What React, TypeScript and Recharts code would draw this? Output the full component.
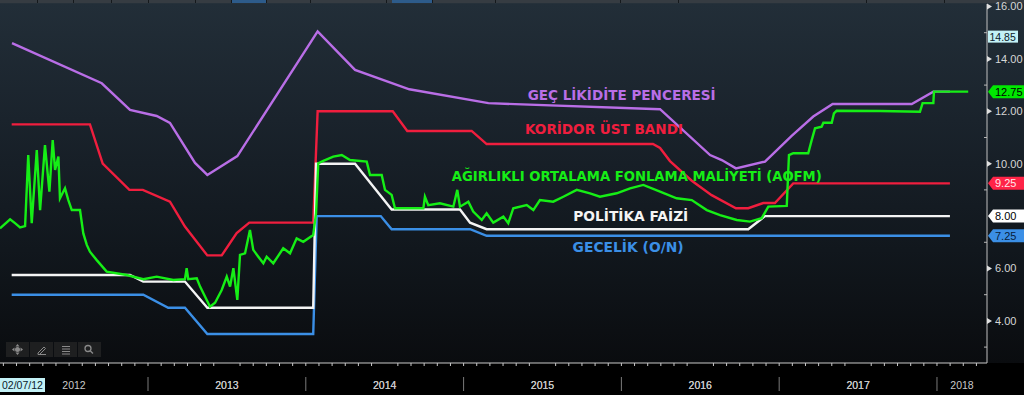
import { LineChart, Line, XAxis, YAxis, ReferenceDot } from "recharts";

// x in decimal years, y in %
const X_DOMAIN: [number, number] = [2012.062, 2018.317];
const Y_DOMAIN: [number, number] = [2.393, 16.095];

const GEC_LIKIDITE: [number, number][] = [
  [2012.138, 14.6], [2012.707, 13.07], [2012.886, 12.05], [2013.055, 11.82], [2013.139, 11.56],
  [2013.298, 10.03], [2013.376, 9.57], [2013.566, 10.29], [2014.075, 15.05], [2014.312, 13.58],
  [2014.656, 12.84], [2015.157, 12.31], [2016.245, 12.08], [2016.562, 10.33], [2016.636, 10.14],
  [2016.726, 9.82], [2016.91, 10.08], [2017.079, 11.06], [2017.216, 11.8], [2017.339, 12.28],
  [2017.84, 12.28], [2017.977, 12.75], [2018.082, 12.75],
];

const UST_BANT: [number, number][] = [
  [2012.136, 11.5], [2012.632, 11.5], [2012.713, 10.0], [2012.882, 9.0], [2012.967, 9.0],
  [2013.139, 8.55], [2013.234, 7.6], [2013.376, 6.5], [2013.467, 6.5], [2013.562, 7.35],
  [2013.642, 7.75], [2014.047, 7.75], [2014.075, 12.0], [2014.551, 12.0], [2014.643, 11.25],
  [2015.051, 11.25], [2015.146, 10.75], [2016.2, 10.75], [2016.245, 10.6], [2016.308, 10.1],
  [2016.446, 9.35], [2016.572, 8.8], [2016.726, 8.3], [2016.804, 8.3], [2016.899, 8.5],
  [2016.973, 8.5], [2017.089, 9.25], [2018.082, 9.25],
];

const GECELIK: [number, number][] = [
  [2012.136, 5.0], [2012.97, 5.0], [2013.128, 4.5], [2013.234, 4.5], [2013.376, 3.5],
  [2014.047, 3.5], [2014.069, 8.0], [2014.475, 8.0], [2014.544, 7.5], [2015.041, 7.5],
  [2015.146, 7.25], [2018.082, 7.25],
];

const POLITIKA: [number, number][] = [
  [2012.136, 5.75], [2012.886, 5.75], [2012.97, 5.5], [2013.234, 5.5], [2013.376, 4.5],
  [2014.047, 4.5], [2014.065, 10.0], [2014.312, 10.0], [2014.544, 8.25], [2014.977, 8.25],
  [2015.041, 7.75], [2015.146, 7.5], [2016.804, 7.5], [2016.91, 8.0], [2018.082, 8.0],
];

const AOFM: [number, number][] = [
  [2012.062, 7.53], [2012.126, 7.88], [2012.157, 7.73], [2012.189, 7.57], [2012.221, 7.62],
  [2012.241, 10.33], [2012.263, 7.73], [2012.295, 10.52], [2012.316, 8.23], [2012.347, 10.71],
  [2012.375, 8.93], [2012.396, 10.9], [2012.411, 9.76], [2012.432, 10.27], [2012.442, 8.68],
  [2012.474, 9.06], [2012.495, 8.61], [2012.517, 8.23], [2012.569, 8.23], [2012.59, 7.34],
  [2012.612, 6.9], [2012.632, 6.64], [2012.675, 6.32], [2012.738, 5.88], [2012.865, 5.75],
  [2012.97, 5.59], [2013.055, 5.69], [2013.16, 5.56], [2013.234, 5.59], [2013.245, 6.01],
  [2013.255, 5.59], [2013.309, 5.63], [2013.33, 5.31], [2013.393, 4.54], [2013.425, 4.69],
  [2013.467, 5.18], [2013.499, 5.69], [2013.52, 5.31], [2013.541, 6.01], [2013.566, 4.8],
  [2013.583, 6.52], [2013.615, 6.58], [2013.646, 7.47], [2013.667, 6.71], [2013.699, 6.45],
  [2013.731, 6.2], [2013.752, 6.45], [2013.794, 6.2], [2013.857, 6.77], [2013.9, 6.58],
  [2013.942, 7.15], [2013.984, 7.02], [2014.047, 7.28], [2014.065, 8.11], [2014.079, 10.02],
  [2014.111, 10.11], [2014.174, 10.27], [2014.228, 10.33], [2014.28, 10.14], [2014.386, 10.08],
  [2014.407, 9.57], [2014.481, 9.57], [2014.502, 9.0], [2014.544, 8.81], [2014.565, 8.3],
  [2014.745, 8.3], [2014.755, 8.74], [2014.776, 8.42], [2014.85, 8.49], [2014.935, 8.36],
  [2014.96, 9.0], [2014.977, 8.36], [2015.03, 8.55], [2015.061, 8.17], [2015.115, 7.85],
  [2015.146, 8.11], [2015.188, 7.75], [2015.252, 7.98], [2015.283, 7.73], [2015.315, 8.3],
  [2015.4, 8.42], [2015.442, 8.23], [2015.484, 8.61], [2015.568, 8.55], [2015.632, 8.74],
  [2015.717, 9.0], [2015.801, 8.87], [2015.864, 8.74], [2015.97, 8.87], [2016.055, 9.06],
  [2016.139, 9.19], [2016.245, 8.93], [2016.35, 8.68], [2016.446, 8.61], [2016.541, 8.23],
  [2016.625, 8.04], [2016.731, 7.85], [2016.815, 7.79], [2016.889, 7.92], [2016.931, 8.36],
  [2017.048, 8.39], [2017.062, 10.33], [2017.089, 10.4], [2017.184, 10.4], [2017.206, 10.9],
  [2017.227, 11.35], [2017.269, 11.41], [2017.28, 11.56], [2017.333, 11.56], [2017.347, 11.92],
  [2017.364, 12.02], [2017.639, 12.01], [2017.892, 11.98], [2017.909, 12.31], [2017.977, 12.31],
  [2017.981, 12.75], [2018.198, 12.75],
];

const YEARS = [2012, 2013, 2014, 2015, 2016, 2017, 2018];
const Y_MAJOR = [4, 6, 8, 10, 12, 14, 16];
const Y_MINOR = [3, 5, 7, 9, 11, 13, 15];
const MAX_MARK = 14.85;
const LAST_AOFM = 12.75;
const LAST_UST = 9.25;
const LAST_POLITIKA = 8.0;
const LAST_GECELIK = 7.25;
const START_LABEL = "02/07/12";

const COLORS = {
  gec: "#b96ee6",
  ust: "#f01e3e",
  aofm: "#16ee16",
  politika: "#f4f4f4",
  gecelik: "#3b8fe6",
};

const TAGS = [
  { v: LAST_AOFM, bg: "#00e800", fg: "#000" },
  { v: LAST_UST, bg: "#ff2447", fg: "#ffe8ec" },
  { v: LAST_POLITIKA, bg: "#ffffff", fg: "#000" },
  { v: LAST_GECELIK, bg: "#3b8fe6", fg: "#08203a" },
];

const toRows = (arr: [number, number][]) => arr.map(([t, v]) => ({ t, v }));

const monthTicks: number[] = [];
for (let m = 1; 2012 + m / 12 <= X_DOMAIN[1]; m++) monthTicks.push(2012 + m / 12);

const yearLabels = YEARS.map((y) => {
  const a = Math.max(y, X_DOMAIN[0]);
  const b = Math.min(y + 1, X_DOMAIN[1]);
  return { t: (a + b) / 2, label: String(y) };
});

const AXIS_FONT = "'Liberation Sans', Arial, sans-serif";
const ANNO_FONT = "'DejaVu Sans', Verdana, sans-serif";

function XTick(props: any) {
  const { x, y, payload } = props;
  const t = payload.value;
  const lab = yearLabels.find((l) => Math.abs(l.t - t) < 1e-9);
  if (lab) {
    return (
      <text x={x} y={y + 26} textAnchor="middle" fill="#c9c9c9" fontSize={10.5} fontFamily={AXIS_FONT}>
        {lab.label}
      </text>
    );
  }
  const isYear = Math.abs(t - Math.round(t)) < 1e-9;
  return (
    <g>
      <line x1={x} x2={x} y1={y} y2={y + 3} stroke="#c8c8c8" />
      {isYear && <line x1={x} x2={x} y1={y + 14} y2={y + 28} stroke="#7a7a7a" />}
    </g>
  );
}

function YTick(props: any) {
  const { x, y, payload } = props;
  const v = payload.value;
  if (Math.abs(v - MAX_MARK) < 1e-9) {
    return (
      <g>
        <rect x={x + 1} y={y - 6} width={30} height={12} fill="#c3f1f6" />
        <text x={x + 2.5} y={y + 4} fill="#0b1a2a" fontSize={10.5} fontFamily={AXIS_FONT}>
          {v.toFixed(2)}
        </text>
      </g>
    );
  }
  const tag = TAGS.find((tg) => Math.abs(tg.v - v) < 1e-9);
  if (tag) {
    return (
      <g>
        <path d={`M${x + 1} ${y}L${x + 6} ${y - 6.5}L1024 ${y - 6.5}L1024 ${y + 6.5}L${x + 6} ${y + 6.5}Z`} fill={tag.bg} />
        <text x={x + 8} y={y + 4} fill={tag.fg} fontSize={11} fontFamily={AXIS_FONT}>
          {v.toFixed(2)}
        </text>
      </g>
    );
  }
  if (Math.abs(v % 2) === 1) {
    return <line x1={x - 3} x2={x} y1={y} y2={y} stroke="#b8b8b8" />;
  }
  return (
    <g>
      <path d={`M${x} ${y - 3}L${x + 5} ${y}L${x} ${y + 3}Z`} fill="#e0e0e0" />
      <text x={x + 8} y={y + 4} fill="#d6d6d6" fontSize={11} fontFamily={AXIS_FONT}>
        {v.toFixed(2)}
      </text>
    </g>
  );
}

function Anno(props: any) {
  const { viewBox, text, color, w } = props;
  const x = viewBox.x + (viewBox.width || 0) / 2;
  const y = viewBox.y + (viewBox.height || 0) / 2;
  return (
    <text
      x={x}
      y={y + 5}
      fill={color}
      fontSize={13.5}
      fontWeight="bold"
      fontFamily={ANNO_FONT}
      textLength={w}
      lengthAdjust="spacingAndGlyphs"
    >
      {text}
    </text>
  );
}

const ANNOTATIONS = [
  { t: 2015.406, v: 12.62, text: "GEÇ LİKİDİTE PENCERESİ", color: COLORS.gec, w: 188 },
  { t: 2015.389, v: 11.32, text: "KORİDOR ÜST BANDI", color: COLORS.ust, w: 158 },
  { t: 2014.925, v: 9.53, text: "AĞIRLIKLI ORTALAMA FONLAMA MALİYETİ (AOFM)", color: COLORS.aofm, w: 370 },
  { t: 2015.695, v: 8.02, text: "POLİTİKA FAİZİ", color: COLORS.politika, w: 115 },
  { t: 2015.691, v: 6.81, text: "GECELİK (O/N)", color: COLORS.gecelik, w: 111 },
];

const SERIES = [
  { key: "gec", data: GEC_LIKIDITE },
  { key: "ust", data: UST_BANT },
  { key: "gecelik", data: GECELIK },
  { key: "politika", data: POLITIKA },
  { key: "aofm", data: AOFM },
] as const;

function ToolIcon({ kind }: { kind: number }) {
  const c = "#8a8a8a";
  return (
    <svg width={23} height={15} style={{ display: "block" }}>
      {kind === 0 && (
        <g fill={c}>
          <circle cx={11.5} cy={7.5} r={2.5} />
          <path d="M11.5 2l2 2.5h-4zM11.5 13l2-2.5h-4zM6 7.5l2.5-2v4zM17 7.5l-2.5-2v4z" />
        </g>
      )}
      {kind === 1 && <path d="M8 11l6-6 1.5 1.5-6 6H8zM8 12.5h8" stroke={c} fill="none" />}
      {kind === 2 && (
        <g stroke={c}>
          <line x1={8} x2={16} y1={4.5} y2={4.5} />
          <line x1={8} x2={16} y1={7} y2={7} />
          <line x1={8} x2={16} y1={9.5} y2={9.5} />
          <line x1={8} x2={16} y1={12} y2={12} />
        </g>
      )}
      {kind === 3 && (
        <g stroke={c} fill="none" strokeWidth={1.3}>
          <circle cx={10} cy={6.5} r={3} />
          <line x1={12.2} y1={8.7} x2={15} y2={11.5} />
        </g>
      )}
    </svg>
  );
}

const TOP_DIVIDERS = [37, 73, 111, 148, 195, 231, 266, 310, 386, 432, 495, 620, 678, 866, 944];

export default function App() {
  return (
    <div
      style={{
        position: "relative",
        width: 1024,
        height: 395,
        overflow: "hidden",
        background:
          "linear-gradient(to bottom, #2a343c 0px, #2a343c 3px, #222e38 4px, #1a232c 120px, #11171d 250px, #0a0c0f 363px, #000 363px)",
      }}
    >
      <style>{"body{margin:0;background:#000}"}</style>
      <div style={{ position: "absolute", left: 0, top: 0, width: 1024, height: 3, background: "#363c42" }}>
        <div style={{ position: "absolute", left: 231, width: 35, top: 0, height: 3, background: "#2d5b8a" }} />
        <div style={{ position: "absolute", left: 392, width: 40, top: 0, height: 3, background: "#2d5b8a" }} />
        {TOP_DIVIDERS.map((d) => (
          <div key={d} style={{ position: "absolute", left: d, width: 1, top: 0, height: 3, background: "#15191c" }} />
        ))}
      </div>
      <LineChart width={1024} height={395} margin={{ top: 4, right: 0, bottom: 0, left: 0 }}>
        <XAxis
          xAxisId="m"
          type="number"
          dataKey="t"
          domain={X_DOMAIN}
          allowDataOverflow
          ticks={[...monthTicks, ...yearLabels.map((l) => l.t)]}
          interval={0}
          height={32}
          tickSize={0}
          tickMargin={0}
          tickLine={false}
          axisLine={{ stroke: "#c8c8c8" }}
          tick={<XTick />}
        />
        <YAxis
          yAxisId="v"
          orientation="right"
          type="number"
          domain={Y_DOMAIN}
          allowDataOverflow
          width={37}
          ticks={[...Y_MINOR, ...Y_MAJOR, MAX_MARK, LAST_GECELIK, LAST_UST, LAST_AOFM]}
          interval={0}
          tickSize={0}
          tickMargin={0}
          tickLine={false}
          axisLine={{ stroke: "#c0c0c0" }}
          tick={<YTick />}
        />
        {SERIES.map((s) => (
          <Line
            key={s.key}
            xAxisId="m"
            yAxisId="v"
            data={toRows(s.data as any)}
            dataKey="v"
            type="linear"
            stroke={(COLORS as any)[s.key]}
            strokeWidth={2.4}
            dot={false}
            activeDot={false}
            isAnimationActive={false}
          />
        ))}
        {ANNOTATIONS.map((a) => (
          <ReferenceDot
            key={a.text}
            xAxisId="m"
            yAxisId="v"
            x={a.t}
            y={a.v}
            r={1}
            fill="none"
            stroke="none"
            label={<Anno text={a.text} color={a.color} w={a.w} />}
          />
        ))}
      </LineChart>
      <div
        style={{
          position: "absolute",
          left: 0,
          top: 378,
          height: 14,
          padding: "0 2px",
          background: "#c3f1f6",
          color: "#0b1a2a",
          fontSize: 10.5,
          lineHeight: "14px",
          fontFamily: AXIS_FONT,
        }}
      >
        {START_LABEL}
      </div>
      <div style={{ position: "absolute", left: 6, top: 342, display: "flex", gap: 1 }}>
        {[0, 1, 2, 3].map((k) => (
          <div key={k} style={{ width: 23, height: 15, background: "#1e1f20" }}>
            <ToolIcon kind={k} />
          </div>
        ))}
      </div>
    </div>
  );
}
